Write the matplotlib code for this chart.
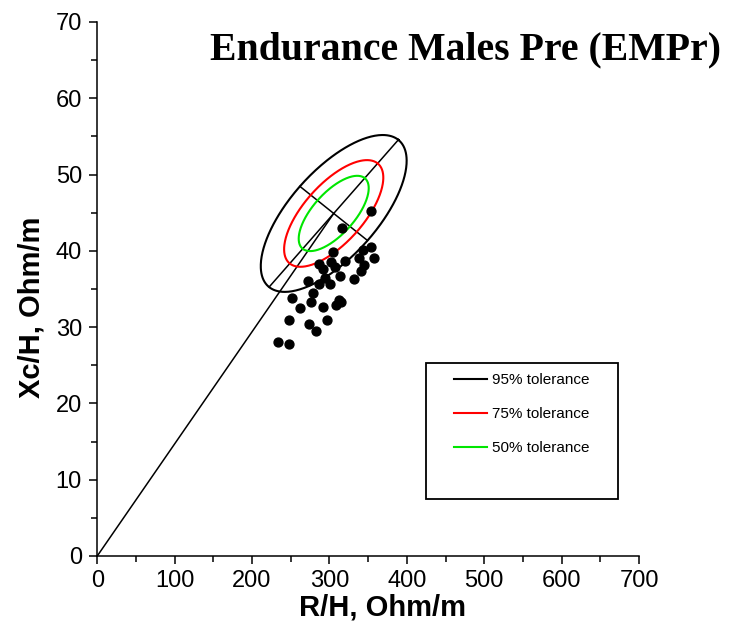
import numpy as np
import matplotlib.pyplot as plt
from matplotlib.patches import Rectangle

plt.rcParams['font.family'] = ['Liberation Sans', 'DejaVu Sans']

# measured points, R/H and Xc/H in Ohm/m
r_h = [354.3, 316.8, 354.3, 343.1, 357.7, 337.9, 305.2, 301.8, 307.4, 320.3,
       344.8, 340.5, 331.1, 313.8, 287.1, 292.3, 294.5, 300.9, 285.9, 272.1,
       278.5, 251.8, 261.3, 276.4, 292.3, 308.7, 312.5, 315.1, 248.0, 274.2,
       296.6, 282.8, 232.9, 248.0]
xc_h = [45.2, 43.0, 40.5, 40.1, 39.1, 39.1, 39.8, 38.6, 37.9, 38.7,
        38.1, 37.3, 36.3, 36.7, 38.3, 37.6, 36.4, 35.7, 35.6, 36.1,
        34.5, 33.8, 32.5, 33.3, 32.7, 32.9, 33.6, 33.3, 30.9, 30.4,
        30.9, 29.5, 28.0, 27.8]

# reference tolerance ellipse: centre and semi axes of the 95% one
centre = [305.5, 44.9]
major = [83.5, 9.65]
minor = [43.7, -3.55]
levels = ["95% tolerance", "75% tolerance", "50% tolerance"]
scales = [1.0, 0.68, 0.48]
colors = ["black", "#ff0000", "#00e600"]

xticks = [0, 100, 200, 300, 400, 500, 600, 700]
yticks = [0, 10, 20, 30, 40, 50, 60, 70]

fig = plt.figure(figsize=(7.38, 6.37), dpi=100)
ax = fig.add_axes([0.1318, 0.1272, 0.7341, 0.8383])

# line from origin to the mean vector
ax.plot([0, centre[0]], [0, centre[1]], color='black', lw=1.1)
# principal axes of the 95% ellipse
ax.plot([centre[0] - major[0], centre[0] + major[0]],
        [centre[1] - major[1], centre[1] + major[1]], color='black', lw=1.1)
ax.plot([centre[0] - minor[0], centre[0] + minor[0]],
        [centre[1] - minor[1], centre[1] + minor[1]], color='black', lw=1.1)

t = np.linspace(0, 2 * np.pi, 400)
for lab, s, col in zip(levels, scales, colors):
    ex = centre[0] + s * (major[0] * np.cos(t) + minor[0] * np.sin(t))
    ey = centre[1] + s * (major[1] * np.cos(t) + minor[1] * np.sin(t))
    ax.plot(ex, ey, color=col, lw=1.5, label=lab)

ax.plot(r_h, xc_h, 'o', color='black', ms=6.4, zorder=5)

ax.set_xlim(0, 700)
ax.set_ylim(0, 70)
ax.set_xticks(xticks)
ax.set_xticks(np.arange(50, 700, 100), minor=True)
ax.set_yticks(yticks)
ax.set_yticks(np.arange(5, 70, 10), minor=True)
ax.tick_params(which='major', length=6, width=1.1, labelsize=17)
ax.tick_params(which='minor', length=4.5, width=1.1)
ax.tick_params(axis='x', pad=4)
ax.tick_params(axis='y', pad=5)
for side in ['top', 'right']:
    ax.spines[side].set_visible(False)
for side in ['left', 'bottom']:
    ax.spines[side].set_linewidth(1.1)

ax.set_xlabel("R/H, Ohm/m", fontsize=21, fontweight='bold')
ax.set_ylabel("Xc/H, Ohm/m", fontsize=21, fontweight='bold')
ax.xaxis.label.set_va('center')
ax.xaxis.set_label_coords(0.527, -0.097)
ax.yaxis.label.set_va('center')
ax.yaxis.set_label_coords(-0.122, 0.466)

fig.text(0.6314, 0.906, "Endurance Males Pre (EMPr)", ha='center',
         va='baseline', fontsize=28.6, fontweight='bold',
         family=['Liberation Serif', 'DejaVu Serif'])

# legend box
ax.add_patch(Rectangle((0.6068, 0.1067), 0.3544, 0.2547, transform=ax.transAxes,
                       fill=False, lw=1.3, ec='black', clip_on=False))
ax.legend(loc='upper left', bbox_to_anchor=(0.6585, 0.342), frameon=False,
          fontsize=11, borderpad=0, borderaxespad=0, handlelength=2.16,
          handletextpad=0.3, labelspacing=1.3)

fig.savefig("out.png", dpi=100)
